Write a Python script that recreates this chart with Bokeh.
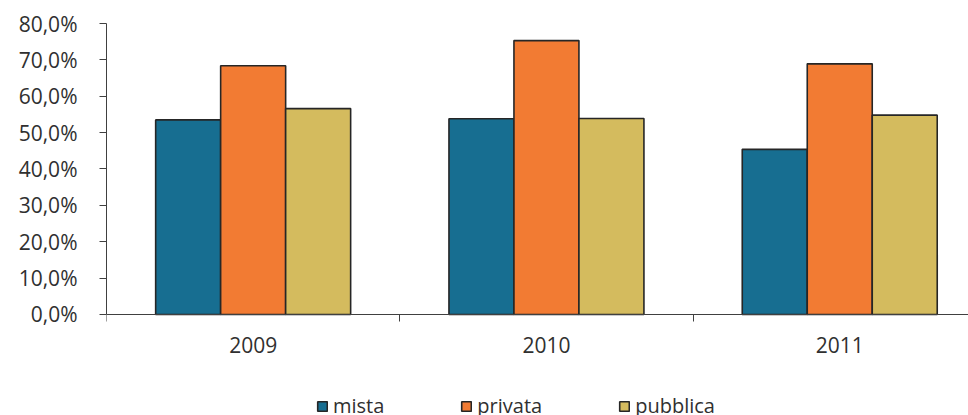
from bokeh.plotting import figure
from bokeh.models import Range1d, FixedTicker, Legend, LegendItem, LinearAxis
from bokeh.embed import file_html
from bokeh.resources import INLINE

years = ["2009", "2010", "2011"]
series = ["mista", "privata", "pubblica"]
mista = [53.5, 53.8, 45.4]
privata = [68.4, 75.3, 68.9]
pubblica = [56.6, 53.9, 54.8]
y_ticks = [0, 10, 20, 30, 40, 50, 60, 70, 80]
y_labels = ["0,0%", "10,0%", "20,0%", "30,0%", "40,0%", "50,0%", "60,0%", "70,0%", "80,0%"]

colors = ["#176E91", "#F27B33", "#D4BB5E"]
FONT = "Open Sans"
TXT = "#303030"
AX = "#404040"

p = figure(width=968, height=415, output_backend="svg", toolbar_location=None,
           x_range=Range1d(0, 2.939), y_range=Range1d(-27.77, 80),
           x_axis_location=None, y_axis_location=None,
           min_border_left=106, min_border_right=0, min_border_top=23, min_border_bottom=0)
p.outline_line_color = None
p.xgrid.visible = False
p.ygrid.visible = False
p.background_fill_color = "white"
p.border_fill_color = "white"

bw = 0.2216
offsets = [-bw, 0.0, bw]
renderers = []
for vals, off, col in zip([mista, privata, pubblica], offsets, colors):
    xs = [i + 0.5 + off for i in range(len(years))]
    r = p.vbar(x=xs, top=vals, width=bw, bottom=0, fill_color=col,
               line_color="#262626", line_width=1.6)
    renderers.append(r)

# y axis
ya = LinearAxis(ticker=FixedTicker(ticks=y_ticks, minor_ticks=[]), bounds=(0, 80))
ya.major_label_overrides = {float(t): l for t, l in zip(y_ticks, y_labels)}
ya.major_tick_out = 7
ya.major_tick_in = 0
ya.major_tick_line_color = AX
ya.axis_line_color = AX
ya.major_label_standoff = 22
ya.major_label_text_font = FONT
ya.major_label_text_font_size = "21px"
ya.major_label_text_color = TXT
p.add_layout(ya, "left")

# x axis, fixed at 0
xa = LinearAxis(ticker=FixedTicker(ticks=[i + 0.5 for i in range(len(years))],
                                   minor_ticks=[float(i) for i in range(len(years) + 1)]),
                fixed_location=0)
xa.major_label_overrides = {i + 0.5: y for i, y in enumerate(years)}
xa.major_tick_line_color = None
xa.minor_tick_line_color = AX
xa.minor_tick_out = 7
xa.minor_tick_in = 0
xa.axis_line_color = AX
xa.major_label_standoff = 16
xa.major_label_text_font = FONT
xa.major_label_text_font_size = "21px"
xa.major_label_text_color = TXT
p.add_layout(xa, "below")

legend = Legend(items=[LegendItem(label=s, renderers=[r]) for s, r in zip(series, renderers)],
                orientation="horizontal", location=(210, -4),
                glyph_width=12, glyph_height=12, label_standoff=5, spacing=76,
                padding=0, margin=0, border_line_color=None, background_fill_alpha=0,
                label_text_font=FONT, label_text_font_size="20px", label_text_color=TXT)
p.add_layout(legend, "center")

open("out.html", "w").write(file_html(p, INLINE))
